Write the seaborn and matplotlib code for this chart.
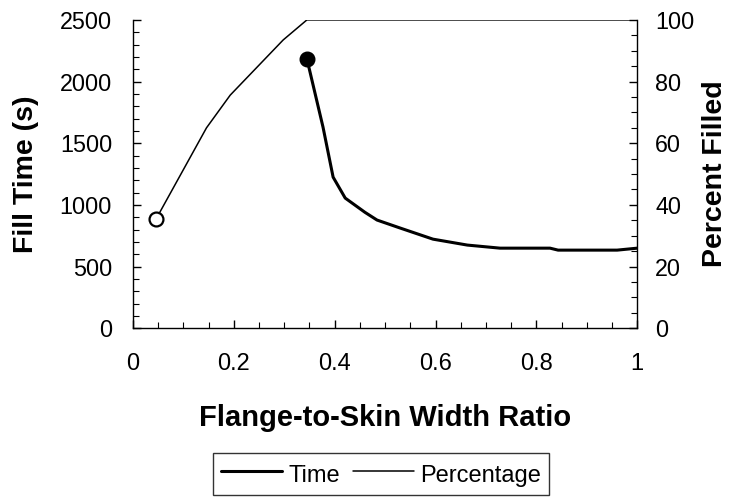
import matplotlib
matplotlib.use("Agg")
import matplotlib.pyplot as plt
from matplotlib.ticker import MultipleLocator
import seaborn as sns
import pandas as pd

# Fill time (s) versus flange-to-skin width ratio
time_ratio = [0.345, 0.377, 0.397, 0.421, 0.46, 0.484, 0.53, 0.595, 0.663, 0.728, 0.827, 0.843, 0.96, 1.0]
fill_time = [2185, 1630, 1225, 1055, 940, 877, 812, 722, 674, 649, 649, 633, 633, 649]

# Percent of the part filled versus ratio
pct_ratio = [0.046, 0.146, 0.193, 0.298, 0.345, 1.0]
pct_filled = [35.4, 65, 75.6, 93.5, 100, 100]

x_ticks = [0, 0.2, 0.4, 0.6, 0.8, 1]
x_tick_labels = ["0", "0.2", "0.4", "0.6", "0.8", "1"]

sns.set_style("ticks")
plt.rcParams["font.family"] = ["Liberation Sans", "DejaVu Sans"]
plt.rcParams.update({"text.color": "black", "axes.labelcolor": "black",
                     "xtick.color": "black", "ytick.color": "black",
                     "axes.edgecolor": "black"})

time_df = pd.DataFrame({"ratio": time_ratio, "time": fill_time})
pct_df = pd.DataFrame({"ratio": pct_ratio, "pct": pct_filled})

fig = plt.figure(figsize=(7.30, 4.98), dpi=100)
ax = fig.add_axes([0.182, 0.341, 0.691, 0.619])
ax2 = ax.twinx()

sns.lineplot(data=time_df, x="ratio", y="time", ax=ax, color="black", lw=2.2,
             sort=False, label="Time", legend=False)
ax.plot(time_ratio[0], fill_time[0], "o", color="black", ms=10.5, zorder=5)

sns.lineplot(data=pct_df, x="ratio", y="pct", ax=ax2, color="black", lw=1.1,
             sort=False, label="Percentage", legend=False)
ax2.plot(pct_ratio[0], pct_filled[0], "o", mfc="white", mec="black", mew=1.6,
         ms=10, zorder=5)

ax.set_xlim(0, 1)
ax.set_ylim(0, 2500)
ax2.set_ylim(0, 100)

ax.set_xticks(x_ticks)
ax.set_xticklabels(x_tick_labels)
ax.xaxis.set_minor_locator(MultipleLocator(0.05))
ax.yaxis.set_major_locator(MultipleLocator(500))
ax.yaxis.set_minor_locator(MultipleLocator(100))
ax2.yaxis.set_major_locator(MultipleLocator(20))
ax2.yaxis.set_minor_locator(MultipleLocator(5))

for a in (ax, ax2):
    a.spines["top"].set_visible(False)
    for s in a.spines.values():
        s.set_linewidth(1.0)
        s.set_color("black")
    a.tick_params(which="major", direction="in", length=6, width=1,
                  colors="black")
    a.tick_params(which="minor", direction="in", length=4, width=0.8)
ax.tick_params(axis="x", which="major", pad=18, labelsize=17)
ax.tick_params(axis="y", which="major", pad=15, labelsize=16.8)
ax2.tick_params(axis="y", which="major", pad=13, labelsize=16.8)
ax.spines["right"].set_visible(False)
ax2.spines["left"].set_visible(False)
ax2.spines["bottom"].set_visible(False)

ax.set_xlabel("Flange-to-Skin Width Ratio", fontsize=21, fontweight="bold", labelpad=21)
ax.set_ylabel("Fill Time (s)", fontsize=20.5, fontweight="bold", labelpad=15)
ax2.set_ylabel("Percent Filled", fontsize=20.5, fontweight="bold", labelpad=5.5)

handles = [ax.get_lines()[0], ax2.get_lines()[0]]
leg = fig.legend(handles, ["Time", "Percentage"], loc="upper center",
                 bbox_to_anchor=(0.522, 0.0904), ncol=2, fontsize=17,
                 frameon=True, fancybox=False, edgecolor="black",
                 handlelength=2.6, handleheight=1.3, columnspacing=0.55,
                 handletextpad=0.25, borderpad=0.34, borderaxespad=0)
leg.get_frame().set_linewidth(1.0)

fig.savefig("out.png", dpi=100)
